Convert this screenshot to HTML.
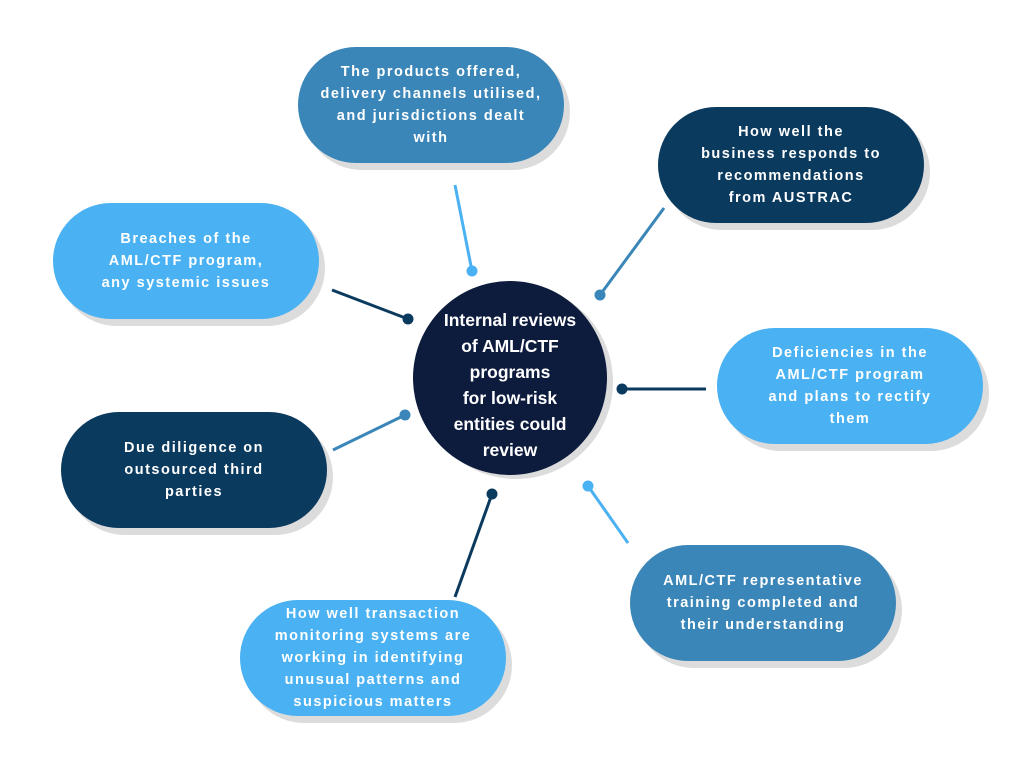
<!DOCTYPE html>
<html><head><meta charset="utf-8"><style>
body{margin:0;width:1024px;height:768px;background:#fff;position:relative;overflow:hidden;font-family:"Liberation Sans",sans-serif}
.p{position:absolute;width:266px;height:116px;border-radius:58px;display:flex;align-items:center;justify-content:center;text-align:center;color:#fff;font-weight:bold;font-size:14.5px;letter-spacing:1.5px;line-height:22px;box-shadow:6px 7px 0 #dcdcdc;white-space:nowrap}
.m{background:#3b86b8}.d{background:#0b3a5f}.l{background:#4ab1f2}
.c{position:absolute;left:413px;top:281px;width:194px;height:194px;border-radius:50%;background:#0d1b3d;box-shadow:6px 4px 0 #dcdcdc;color:#fff;font-size:17.5px;font-weight:bold;line-height:26px;display:flex;align-items:center;justify-content:center;text-align:center;white-space:nowrap;box-sizing:border-box;padding-top:14px}
svg{position:absolute;left:0;top:0}
</style></head><body>
<svg width="1024" height="768">
<g stroke-width="3" fill="none">
<line x1="455" y1="185" x2="472" y2="271" stroke="#4ab1f2"/>
<line x1="664" y1="208" x2="600" y2="295" stroke="#3b86b8"/>
<line x1="332" y1="290" x2="408" y2="319" stroke="#0b3a5f"/>
<line x1="622" y1="389" x2="706" y2="389" stroke="#0b3a5f"/>
<line x1="333" y1="450" x2="405" y2="415" stroke="#3b86b8"/>
<line x1="492" y1="494" x2="455" y2="597" stroke="#0b3a5f"/>
<line x1="588" y1="486" x2="628" y2="543" stroke="#4ab1f2"/>
</g>
<circle cx="472" cy="271" r="5.5" fill="#4ab1f2"/>
<circle cx="600" cy="295" r="5.5" fill="#3b86b8"/>
<circle cx="408" cy="319" r="5.5" fill="#0b3a5f"/>
<circle cx="622" cy="389" r="5.5" fill="#0b3a5f"/>
<circle cx="405" cy="415" r="5.5" fill="#3b86b8"/>
<circle cx="492" cy="494" r="5.5" fill="#0b3a5f"/>
<circle cx="588" cy="486" r="5.5" fill="#4ab1f2"/>
</svg>
<div class="p m" style="left:298px;top:47px">The products offered,<br>delivery channels utilised,<br>and jurisdictions dealt<br>with</div>
<div class="p d" style="left:658px;top:107px">How well the<br>business responds to<br>recommendations<br>from AUSTRAC</div>
<div class="p l" style="left:53px;top:203px">Breaches of the<br>AML/CTF program,<br>any systemic issues</div>
<div class="p l" style="left:717px;top:328px">Deficiencies in the<br>AML/CTF program<br>and plans to rectify<br>them</div>
<div class="p d" style="left:61px;top:412px">Due diligence on<br>outsourced third<br>parties</div>
<div class="p m" style="left:630px;top:545px">AML/CTF representative<br>training completed and<br>their understanding</div>
<div class="p l" style="left:240px;top:600px">How well transaction<br>monitoring systems are<br>working in identifying<br>unusual patterns and<br>suspicious matters</div>
<div class="c">Internal reviews<br>of AML/CTF<br>programs<br>for low-risk<br>entities could<br>review</div>
</body></html>
